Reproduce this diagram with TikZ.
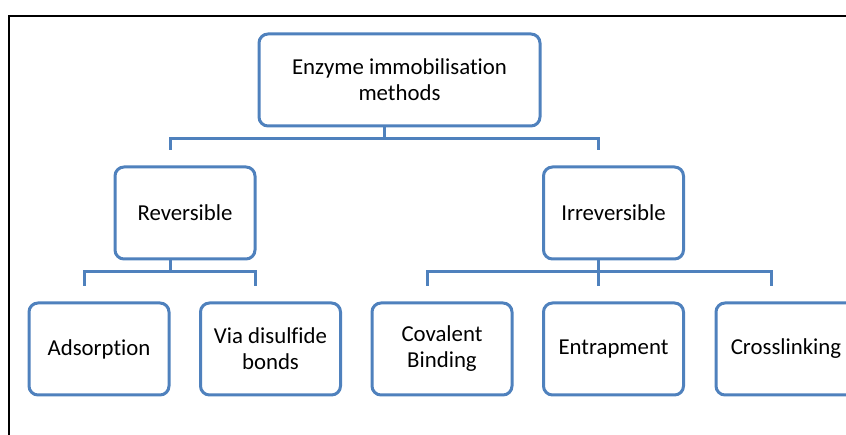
\documentclass[tikz,border=0pt]{standalone}
\usepackage{fontspec}
\setmainfont{Carlito}[Ligatures=NoCommon]
\definecolor{boxblue}{RGB}{79,129,189}
\tikzset{
	method/.style = {
		draw=boxblue, line width=3pt, rounded corners=9pt, fill=white,
		minimum width=140pt, minimum height=92pt, align=center,
		inner sep=2pt, font=\fontsize{22.8}{26}\selectfont
	},
	link/.style = {draw=boxblue, line width=3pt}
}
\begin{document}
\begin{tikzpicture}[x=1pt, y=-1pt]
	\useasboundingbox (0, 0) rectangle (846, 435);
	% frame
	\draw [line width=2pt] (850, 16) -- (9, 16) -- (9, 440);
	% boxes
	\node [method, minimum width=281pt] (top) at (399.5, 80) {Enzyme immobilisation\\methods};
	\node [method] (rev) at (185, 213) {Reversible};
	\node [method] (irr) at (613.5, 213) {Irreversible};
	\node [method] (ads) at (99, 349) {Adsorption};
	\node [method] (dis) at (270.5, 349) {Via disulfide\\bonds};
	\node [method] (cov) at (442, 349) {Covalent\\Binding};
	\node [method] (ent) at (613.5, 349) {Entrapment};
	\node [method] (cro) at (786, 349) {Crosslinking};
	% connectors
	\foreach \p/\c in {top/rev, top/irr, rev/ads, rev/dis, irr/cov, irr/ent, irr/cro}
	{
		\draw [link] ([xshift=-15pt]\p.south) -- ++(0, -11pt) -| ([shift={(-15pt, 15pt)}]\c.north);
	}
\end{tikzpicture}
\end{document}
